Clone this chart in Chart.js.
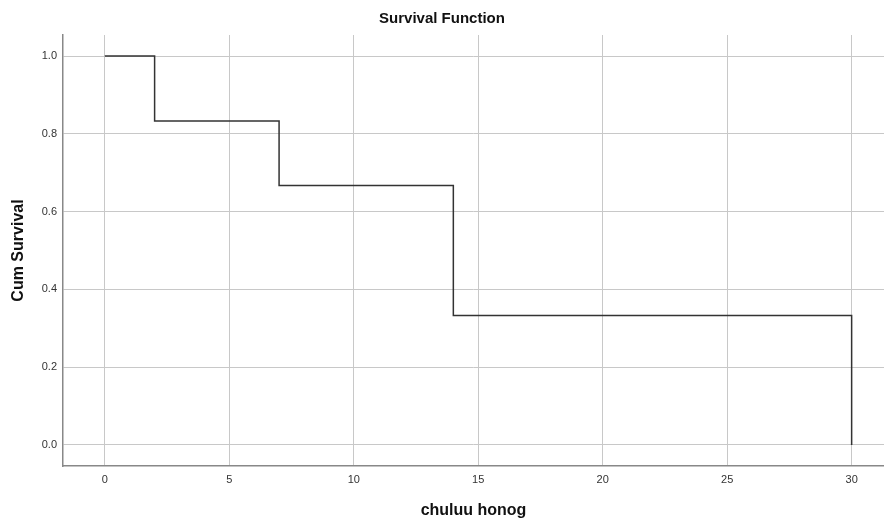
<!DOCTYPE html>
<html>
<head>
<meta charset="utf-8">
<script src="https://cdn.jsdelivr.net/npm/chart.js@4"></script>
<style>
  html, body { margin: 0; padding: 0; background: #fff; }
  #wrap { width: 884px; height: 520px; }
</style>
</head>
<body>
<div id="wrap"><canvas id="survChart"></canvas></div>
<script>
// survival data (time in days, cumulative survival)
var times = [0, 2, 7, 14, 30];
var survival = [1.0, 0.833, 0.667, 0.333, 0.0];
var xTicks = [0, 5, 10, 15, 20, 25, 30];
var yTicks = [0.0, 0.2, 0.4, 0.6, 0.8, 1.0];

document.addEventListener('DOMContentLoaded', function() {
    var points = times.map(function(t, i) { return { x: t, y: survival[i] }; });

    var fontFamily = '"Liberation Sans", Arial, sans-serif';

    new Chart(document.getElementById('survChart'), {
        type: 'scatter',
        data: {
            datasets: [{
                data: points,
                showLine: true,
                stepped: 'before',
                borderColor: '#333333',
                borderWidth: 1.5,
                pointRadius: 0,
                fill: false
            }]
        },
        options: {
            responsive: true,
            maintainAspectRatio: false,
            animation: false,
            layout: { padding: { left: 0, right: 0, top: 0, bottom: 0 } },
            plugins: {
                legend: { display: false },
                tooltip: { enabled: false },
                title: {
                    display: true,
                    text: 'Survival Function',
                    color: '#111',
                    font: { family: fontFamily, size: 15, weight: 'bold' },
                    padding: { top: 10, bottom: 7 }
                }
            },
            scales: {
                x: {
                    type: 'linear',
                    min: -1.68,
                    max: 31.3,
                    afterBuildTicks: function(scale) {
                        scale.ticks = xTicks.map(function(v) { return { value: v }; });
                    },
                    afterFit: function(scale) { scale.height = 54; },
                    ticks: {
                        color: '#333',
                        padding: 7,
                        font: { family: fontFamily, size: 11 },
                        callback: function(v) { return v; }
                    },
                    grid: { color: '#c8c8c8', lineWidth: 1, drawTicks: false },
                    border: { display: true, color: '#888', width: 1.5 },
                    title: {
                        display: true,
                        text: 'chuluu honog',
                        color: '#111',
                        font: { family: fontFamily, size: 16, weight: 'bold' },
                        padding: { top: 16, bottom: 0 }
                    }
                },
                y: {
                    type: 'linear',
                    min: -0.054,
                    max: 1.054,
                    afterBuildTicks: function(scale) {
                        scale.ticks = yTicks.map(function(v) { return { value: v }; });
                    },
                    afterFit: function(scale) { scale.width = 63; },
                    ticks: {
                        color: '#333',
                        padding: 6,
                        font: { family: fontFamily, size: 11 },
                        callback: function(v) { return v.toFixed(1); }
                    },
                    grid: { color: '#c8c8c8', lineWidth: 1, drawTicks: false },
                    border: { display: true, color: '#888', width: 1.5 },
                    title: {
                        display: true,
                        text: 'Cum Survival',
                        color: '#111',
                        font: { family: fontFamily, size: 16, weight: 'bold' },
                        padding: { top: 9, bottom: 6 }
                    }
                }
            }
        }
    });
});
</script>
</body>
</html>
